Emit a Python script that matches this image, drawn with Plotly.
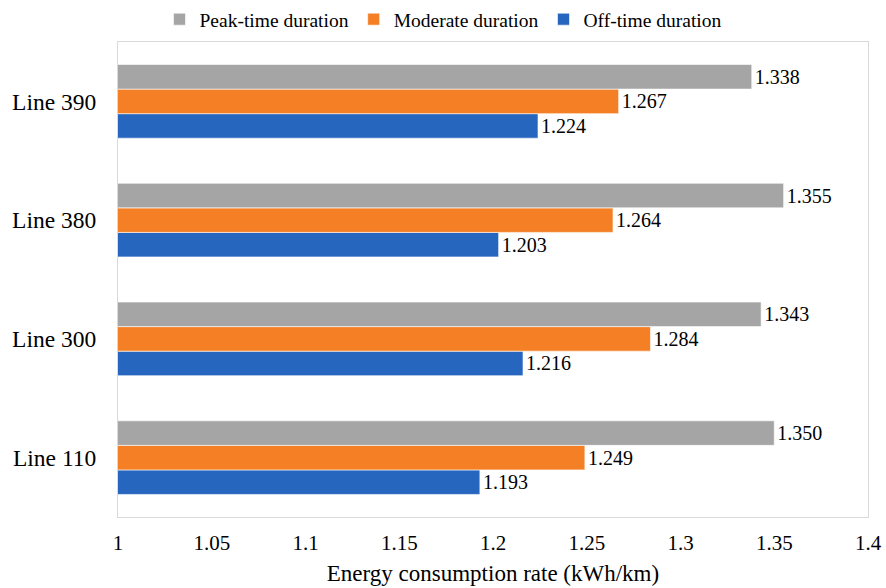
import plotly.graph_objects as go

# Bus lines (bottom to top) and energy consumption rate per time period
lines = ["Line 110", "Line 300", "Line 380", "Line 390"]
peak_time = [1.350, 1.343, 1.355, 1.338]
moderate = [1.249, 1.284, 1.264, 1.267]
off_time = [1.193, 1.216, 1.203, 1.224]

series_names = ["Off-time duration", "Moderate duration", "Peak-time duration"]
series_values = [off_time, moderate, peak_time]
series_colors = ["#2766BE", "#F47F24", "#A5A5A5"]

x_ticks = [1, 1.05, 1.1, 1.15, 1.2, 1.25, 1.3, 1.35, 1.4]
x_tick_text = ["1", "1.05", "1.1", "1.15", "1.2", "1.25", "1.3", "1.35", "1.4"]

FONT = "Liberation Serif, Times New Roman, serif"

fig = go.Figure()
for name, vals, color in zip(series_names, series_values, series_colors):
    fig.add_trace(go.Bar(
        y=lines,
        x=vals,
        name=name,
        orientation="h",
        base=0,
        marker=dict(color=color, line=dict(color="rgba(255,255,255,0.6)", width=1)),
        texttemplate="%{x:.3f}",
        textposition="outside",
        textfont=dict(family=FONT, size=20, color="#000000"),
        cliponaxis=False,
    ))

fig.update_layout(
    width=886,
    height=588,
    margin=dict(l=118, r=18, t=42, b=71, autoexpand=False),
    paper_bgcolor="white",
    plot_bgcolor="white",
    barmode="group",
    bargap=0.38,
    bargroupgap=0,
    font=dict(family=FONT, color="#000000"),
    showlegend=True,
    legend=dict(
        orientation="h",
        traceorder="reversed",
        xref="container",
        yref="container",
        x=0.5,
        xanchor="center",
        y=1.0,
        yanchor="top",
        bgcolor="rgba(0,0,0,0)",
        font=dict(family=FONT, size=19.5, color="#000000"),
        itemwidth=30,
    ),
)

fig.update_xaxes(
    range=[1, 1.4],
    tickvals=x_ticks,
    ticktext=x_tick_text,
    automargin=False,
    showgrid=False,
    zeroline=False,
    showline=True,
    mirror=True,
    linecolor="#D9D9D9",
    linewidth=1,
    ticks="",
    ticklabelstandoff=7,
    tickfont=dict(family=FONT, size=21, color="#000000"),
    title=dict(text="Energy consumption rate (kWh/km)",
               font=dict(family=FONT, size=23, color="#000000"),
               standoff=10),
)

fig.update_yaxes(
    categoryorder="array",
    categoryarray=lines,
    automargin=False,
    showgrid=False,
    zeroline=False,
    showline=True,
    mirror=True,
    linecolor="#D9D9D9",
    linewidth=1,
    ticks="",
    ticklabelstandoff=16,
    tickfont=dict(family=FONT, size=23.5, color="#000000"),
)

fig.write_html("out.html")
